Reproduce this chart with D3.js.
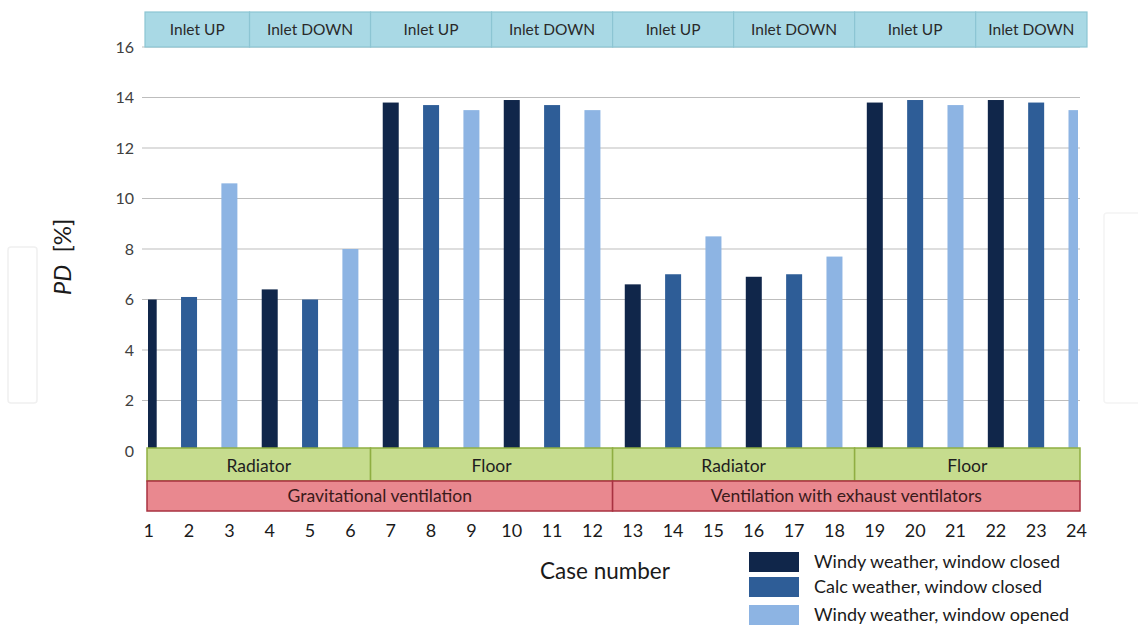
<!DOCTYPE html>
<html>
<head>
<meta charset="utf-8">
<script src="https://cdn.jsdelivr.net/npm/d3@7"></script>
<style>
  html, body { margin: 0; padding: 0; background: #ffffff; }
  svg { display: block; }
  text { font-family: Lato, "Open Sans", sans-serif; }
</style>
</head>
<body>
<svg id="chart" width="1138" height="629"></svg>
<script>
// ---- data ----
const cases = d3.range(1, 25);
const seriesNames = ["Windy weather, window closed", "Calc weather, window closed", "Windy weather, window opened"];
const pdValues = [6.0, 6.1, 10.6, 6.4, 6.0, 8.0,
                  13.8, 13.7, 13.5, 13.9, 13.7, 13.5,
                  6.6, 7.0, 8.5, 6.9, 7.0, 7.7,
                  13.8, 13.9, 13.7, 13.9, 13.8, 13.5];
const yTicks = [0, 2, 4, 6, 8, 10, 12, 14, 16];
const inletLabels = ["Inlet UP", "Inlet DOWN", "Inlet UP", "Inlet DOWN", "Inlet UP", "Inlet DOWN", "Inlet UP", "Inlet DOWN"];
const heatingLabels = ["Radiator", "Floor", "Radiator", "Floor"];
const ventilationLabels = ["Gravitational ventilation", "Ventilation with exhaust ventilators"];
const seriesColors = ["#10264a", "#2e5d97", "#8db4e3"];

const svg = d3.select("#chart");

// ---- scales ----
const x = d3.scalePoint().domain(cases).range([148.7, 1076.5]);
const step = x.step();
const y = d3.scaleLinear().domain([0, 16]).range([451, 47]);
const barW = 16;
const plotL = 148, plotR = 1078;

// watermark-like faint boxes
svg.append("rect").attr("x", 8).attr("y", 247).attr("width", 29).attr("height", 156)
  .attr("rx", 3).attr("fill", "none").attr("stroke", "#f0f0f0").attr("stroke-width", 1.5);
svg.append("rect").attr("x", 1104).attr("y", 213).attr("width", 40).attr("height", 190)
  .attr("rx", 3).attr("fill", "none").attr("stroke", "#f4f4f4").attr("stroke-width", 1.5);

// gridlines
svg.append("g").selectAll("line").data(yTicks.filter(d => d > 0)).join("line")
  .attr("x1", 142).attr("x2", 1080)
  .attr("y1", d => y(d)).attr("y2", d => y(d))
  .attr("stroke", "#bdbdbd").attr("stroke-width", 1);

// y tick labels
svg.append("g").selectAll("text").data(yTicks).join("text")
  .attr("x", 134).attr("y", d => y(d)).attr("dy", "0.35em")
  .attr("text-anchor", "end").attr("font-size", 16).attr("fill", "#404040")
  .text(d => d);

// clip
svg.append("defs").append("clipPath").attr("id", "plotclip")
  .append("rect").attr("x", plotL).attr("y", 0).attr("width", plotR - plotL).attr("height", 460);

// bars
svg.append("g").attr("clip-path", "url(#plotclip)")
  .selectAll("rect").data(cases).join("rect")
  .attr("x", d => x(d) - barW / 2)
  .attr("width", barW)
  .attr("y", (d, i) => y(pdValues[i]))
  .attr("height", (d, i) => y(0) - y(pdValues[i]))
  .attr("fill", (d, i) => seriesColors[i % 3]);

// top band (Inlet)
const topG = svg.append("g");
const topY0 = 12, topY1 = 47;
inletLabels.forEach((lab, k) => {
  const x0 = k === 0 ? 145 : x(3 * k) + step / 2;
  const x1 = k === inletLabels.length - 1 ? 1087 : x(3 * k + 3) + step / 2;
  topG.append("rect").attr("x", x0).attr("y", topY0).attr("width", x1 - x0).attr("height", topY1 - topY0)
    .attr("fill", "#a9d9e5").attr("stroke", "#8cc5d3").attr("stroke-width", 1.2);
  topG.append("text").attr("x", (x0 + x1) / 2).attr("y", (topY0 + topY1) / 2).attr("dy", "0.35em")
    .attr("text-anchor", "middle").attr("font-size", 15.5).attr("fill", "#2a2a2a").text(lab);
});

// green band (heating)
const gY0 = 448, gY1 = 481;
heatingLabels.forEach((lab, k) => {
  const x0 = k === 0 ? 147 : x(6 * k) + step / 2;
  const x1 = k === heatingLabels.length - 1 ? 1080 : x(6 * k + 6) + step / 2;
  svg.append("rect").attr("x", x0).attr("y", gY0).attr("width", x1 - x0).attr("height", gY1 - gY0)
    .attr("fill", "#c6dc8e").attr("stroke", "#8fae42").attr("stroke-width", 1.5);
  svg.append("text").attr("x", (x0 + x1) / 2).attr("y", (gY0 + gY1) / 2 + 1).attr("dy", "0.35em")
    .attr("text-anchor", "middle").attr("font-size", 17.5).attr("fill", "#1e1e1e").text(lab);
});

// red band (ventilation)
const rY0 = 481, rY1 = 511;
ventilationLabels.forEach((lab, k) => {
  const x0 = k === 0 ? 147 : x(12 * k) + step / 2;
  const x1 = k === ventilationLabels.length - 1 ? 1080 : x(12 * k + 12) + step / 2;
  svg.append("rect").attr("x", x0).attr("y", rY0).attr("width", x1 - x0).attr("height", rY1 - rY0)
    .attr("fill", "#e9888f").attr("stroke", "#a83240").attr("stroke-width", 1.5);
  svg.append("text").attr("x", (x0 + x1) / 2).attr("y", (rY0 + rY1) / 2).attr("dy", "0.35em")
    .attr("text-anchor", "middle").attr("font-size", 17.5).attr("fill", "#3a1a1a").text(lab);
});

// case labels
svg.append("g").selectAll("text").data(cases).join("text")
  .attr("x", d => x(d)).attr("y", 531).attr("dy", "0.35em")
  .attr("text-anchor", "middle").attr("font-size", 18).attr("fill", "#1a1a1a")
  .text(d => d);

// x title
svg.append("text").attr("x", 605).attr("y", 571).attr("dy", "0.35em")
  .attr("text-anchor", "middle").attr("font-size", 22.5).attr("fill", "#1a1a1a").text("Case number");

// y title
const yt = svg.append("text").attr("transform", "translate(71,257) rotate(-90)")
  .attr("text-anchor", "middle").attr("font-size", 24).attr("fill", "#1a1a1a");
yt.append("tspan").attr("font-style", "italic").text("PD");
yt.append("tspan").text("\u00a0 [%]");

// legend
const lg = svg.append("g");
seriesNames.forEach((name, i) => {
  const ly = [552, 577, 605][i];
  lg.append("rect").attr("x", 749).attr("y", ly).attr("width", 50).attr("height", 20)
    .attr("fill", seriesColors[i]);
  lg.append("text").attr("x", 814).attr("y", ly + 10).attr("dy", "0.35em")
    .attr("font-size", 18).attr("fill", "#1a1a1a").text(name);
});
</script>
</body>
</html>
